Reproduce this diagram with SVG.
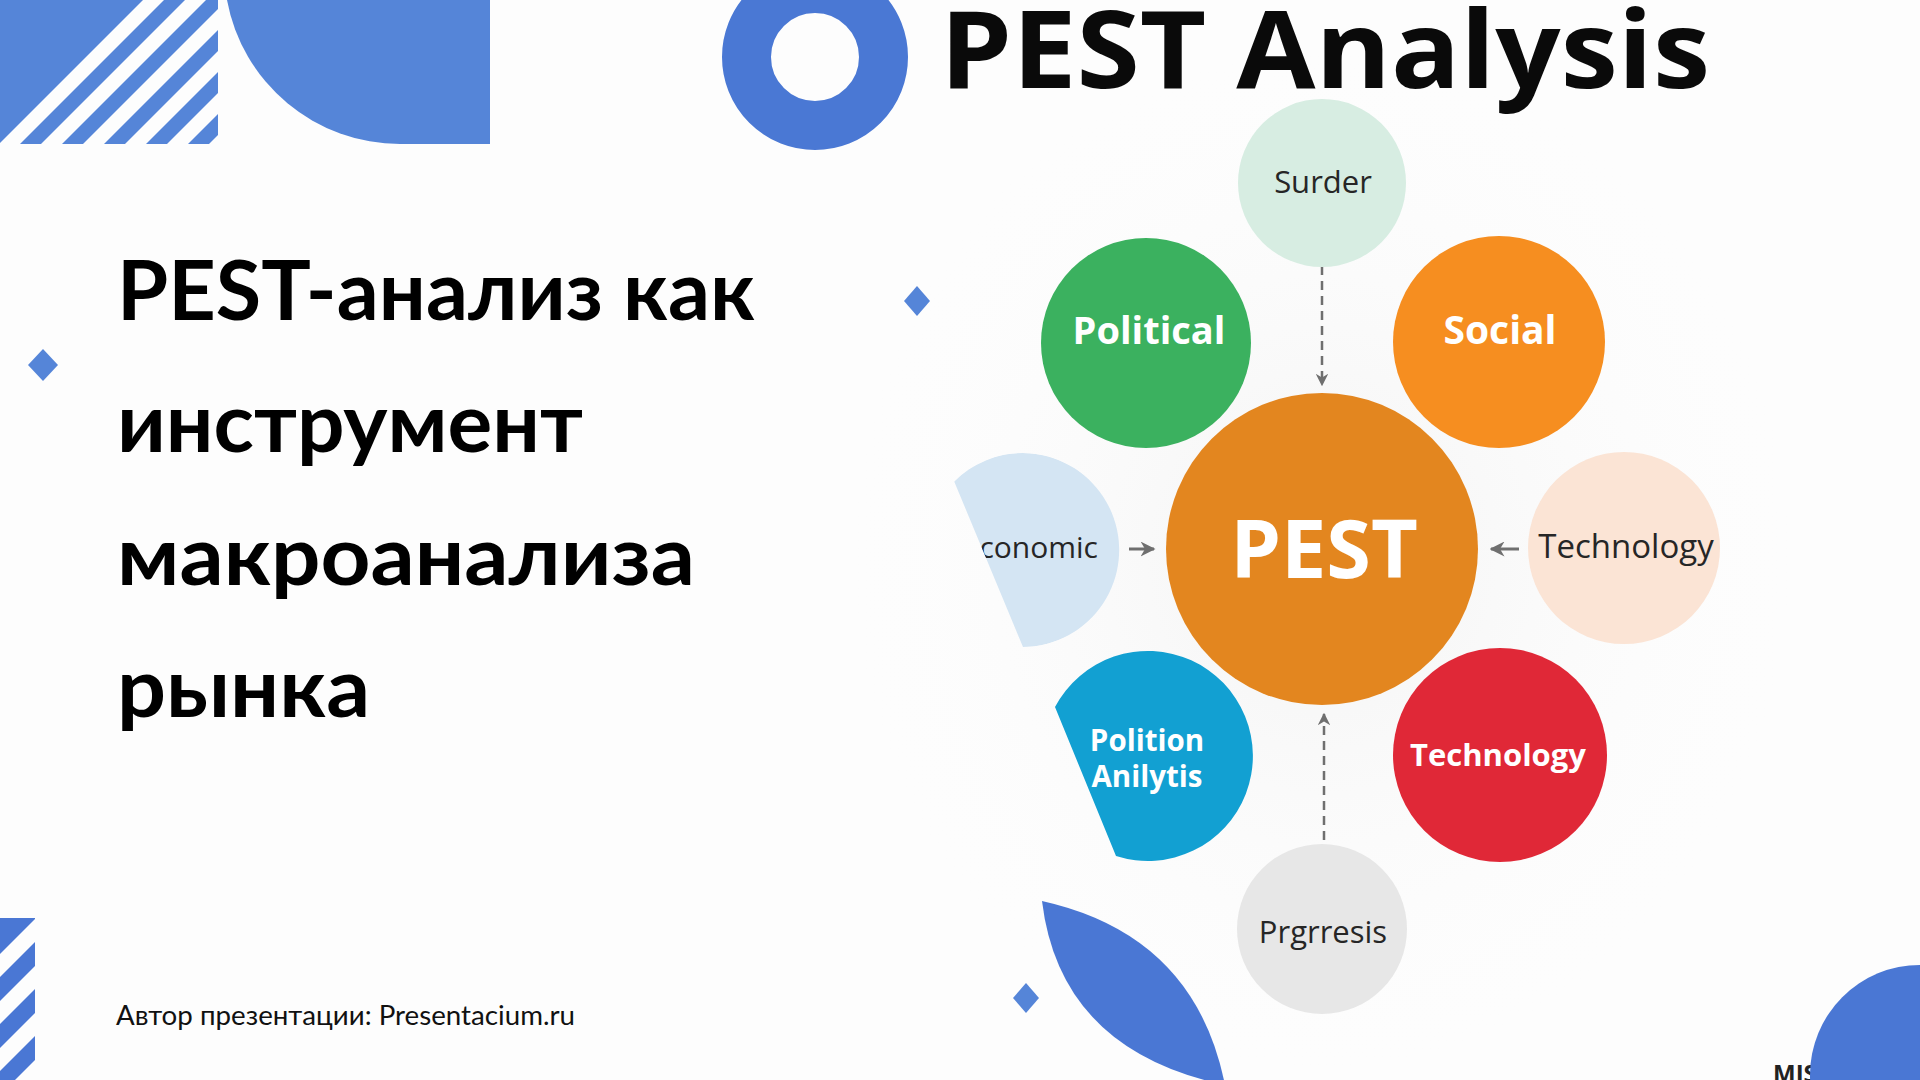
<svg xmlns="http://www.w3.org/2000/svg" width="1920" height="1080" viewBox="0 0 1920 1080">
<defs>
<style>
.deco{fill:#5585d8}
.deco2{fill:#4a77d4}
.title{font-family:Lato,"Liberation Sans",sans-serif;font-weight:700;font-size:83px;fill:#000}
.foot{font-family:Lato,"Liberation Sans",sans-serif;font-size:26px;fill:#111}
.head{font-family:"Open Sans","Liberation Sans",sans-serif;font-weight:700;fill:#0a0a0a}
.lbl{font-family:"Open Sans","Liberation Sans",sans-serif;fill:#262626;text-anchor:middle}
.wlbl{font-family:"Open Sans","Liberation Sans",sans-serif;font-weight:700;fill:#fff;text-anchor:middle}
.dash{stroke:#6f6f6f;stroke-width:2.5;stroke-dasharray:9 6;fill:none}
.arr{stroke:#6f6f6f;stroke-width:3;fill:none}
</style>
<clipPath id="tlc"><rect x="0" y="0" width="218" height="144"/></clipPath>
<clipPath id="blc"><rect x="0" y="918" width="35" height="162"/></clipPath>
<clipPath id="ecoClip"><path d="M954,481 A97,97 0 1 1 1023,647 Z"/></clipPath>
<marker id="ah" viewBox="0 0 10 10" refX="9" refY="5" markerWidth="5" markerHeight="5" orient="auto" markerUnits="strokeWidth">
<path d="M0,0 L10,5 L0,10 L3,5 Z" fill="#6f6f6f"/>
</marker>
<radialGradient id="bgGlow" cx="0.5" cy="0.5" r="0.5">
<stop offset="0" stop-color="#f3f3f3"/>
<stop offset="1" stop-color="#fdfdfd" stop-opacity="0"/>
</radialGradient>
</defs>
<rect width="1920" height="1080" fill="#fdfdfd"/>
<ellipse cx="1322" cy="560" rx="480" ry="520" fill="url(#bgGlow)"/>

<g id="decor-top-left">
<g clip-path="url(#tlc)">
<rect x="0" y="0" width="218" height="144" class="deco"/>
<g fill="#fdfdfd">
<polygon points="143,0 164,0 20,144 -1,144"/>
<polygon points="185,0 206,0 62,144 41,144"/>
<polygon points="227,0 248,0 104,144 83,144"/>
<polygon points="269,0 290,0 146,144 125,144"/>
<polygon points="311,0 332,0 188,144 167,144"/>
<polygon points="353,0 374,0 230,144 209,144"/>
</g>
</g>
<path d="M227,0 L490,0 L490,144 L400,144 A176,176 0 0 1 227,0 Z" class="deco"/>
<circle cx="815" cy="57" r="68.5" fill="none" stroke="#4a78d4" stroke-width="49"/>
</g>

<g id="decor-bottom">
<g clip-path="url(#blc)">
<rect x="0" y="918" width="35" height="162" class="deco2"/>
<g fill="#fdfdfd">
<polygon points="0,954 0,977 35,942 35,919"/>
<polygon points="0,1001 0,1024 35,989 35,966"/>
<polygon points="0,1048 0,1071 35,1036 35,1013"/>
<polygon points="0,1095 0,1118 35,1083 35,1060"/>
</g>
</g>
<path d="M1042,901 Q1195,935 1225,1085 Q1060,1050 1042,901 Z" class="deco2"/>
</g>

<g id="diamonds" fill="#5585d8">
<polygon points="43,349 58,365 43,381 28,365"/>
<polygon points="917,286 930,301 917,316 904,301"/>
<polygon points="1026,983 1039,998 1026,1013 1013,998"/>
</g>

<g id="left-title">
<text class="title" x="117" y="320" textLength="638" lengthAdjust="spacingAndGlyphs">PEST-анализ как</text>
<text class="title" x="117" y="452" textLength="466" lengthAdjust="spacingAndGlyphs">инструмент</text>
<text class="title" x="117" y="585" textLength="578" lengthAdjust="spacingAndGlyphs">макроанализа</text>
<text class="title" x="117" y="717" textLength="253" lengthAdjust="spacingAndGlyphs">рынка</text>
</g>
<text id="footer" class="foot" x="116" y="1025" textLength="459" lengthAdjust="spacingAndGlyphs">Автор презентации: Presentacium.ru</text>

<text id="diagram-title" class="head" x="940" y="88" font-size="108" textLength="770" lengthAdjust="spacingAndGlyphs">PEST Analysis</text>

<g id="connectors">
<line class="dash" x1="1322" y1="236" x2="1322" y2="385" marker-end="url(#ah)"/>
<line class="dash" x1="1324" y1="870" x2="1324" y2="714" marker-end="url(#ah)"/>
<line class="arr" x1="1129" y1="549" x2="1154" y2="549" marker-end="url(#ah)"/>
<line class="arr" x1="1519" y1="549" x2="1491" y2="549" marker-end="url(#ah)"/>
</g>

<g id="node-surder">
<circle cx="1322" cy="183" r="84" fill="#d7ede2"/>
<text class="lbl" x="1323" y="193" style="font-size:31px">Surder</text>
</g>
<g id="node-political">
<circle cx="1146" cy="343" r="105" fill="#3bb15f"/>
<text class="wlbl" x="1149" y="344" style="font-size:38px">Political</text>
</g>
<g id="node-social">
<circle cx="1499" cy="342" r="106" fill="#f68e20"/>
<text class="wlbl" x="1500" y="344" style="font-size:39px">Social</text>
</g>
<g id="node-economic">
<g clip-path="url(#ecoClip)">
<circle cx="1023" cy="550" r="97" fill="#d4e5f3"/>
<text class="lbl" x="1098" y="558" style="font-size:30px;text-anchor:end">conomic</text>
</g>
</g>
<g id="node-pest">
<circle cx="1322" cy="549" r="156" fill="#e3861f"/>
<text class="wlbl" x="1324" y="578" style="font-size:81px">PEST</text>
</g>
<g id="node-technology-right">
<circle cx="1624" cy="548" r="96" fill="#fbe4d5"/>
<text class="lbl" x="1626" y="558" style="font-size:33px">Technology</text>
</g>
<g id="node-polition">
<path d="M1055,707 A105,105 0 1 1 1116,856 Z" fill="#12a0d2"/>
<text class="wlbl" style="font-size:29.5px"><tspan x="1147" y="751">Polition</tspan><tspan x="1147" y="787">Anilytis</tspan></text>
</g>
<g id="node-technology-red">
<circle cx="1500" cy="755" r="107" fill="#e02837"/>
<text class="wlbl" x="1498" y="766" style="font-size:31px">Technology</text>
</g>
<g id="node-progress">
<circle cx="1322" cy="929" r="85" fill="#e7e7e7"/>
<text class="lbl" x="1323" y="943" style="font-size:31px">Prgrresis</text>
</g>

<text id="mis" x="1773" y="1082" font-family="'Open Sans','Liberation Sans',sans-serif" font-weight="700" font-size="24" fill="#222">MIS</text>
<circle id="decor-bottom-right" cx="1920" cy="1075" r="110" fill="#4a77d4"/>
</svg>
